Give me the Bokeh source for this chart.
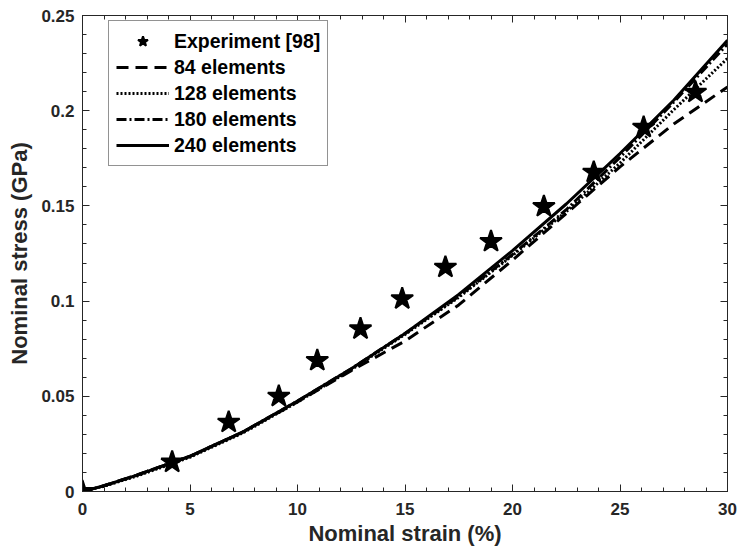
from bokeh.plotting import figure
from bokeh.models import (Range1d, LinearAxis, SingleIntervalTicker, NumeralTickFormatter,
                          CustomJSTickFormatter, Legend, LegendItem)
from bokeh.embed import file_html
from bokeh.resources import INLINE

# Experimental data (stars)
exp_strain = [0, 4.17, 6.8, 9.13, 10.92, 12.93, 14.87, 16.88, 19.0, 21.46, 23.78, 26.1, 28.51]
exp_stress = [0, 0.0154, 0.0364, 0.050, 0.0688, 0.0854, 0.1012, 0.1178, 0.1313, 0.1497, 0.1677, 0.1913, 0.2097]

# Simulation curves
sim_strain = [0, 1, 2.5, 5, 7.5, 10, 12.5, 15, 17.5, 20, 22.5, 25, 27.5, 30]
stress_84 = [0, 0.003, 0.0085, 0.0185, 0.0315, 0.047, 0.0635, 0.079, 0.098, 0.1215, 0.146, 0.1705, 0.193, 0.2125]
stress_128 = [0, 0.0028, 0.008, 0.018, 0.031, 0.047, 0.064, 0.0825, 0.102, 0.124, 0.147, 0.1725, 0.2005, 0.2275]
stress_180 = [0, 0.003, 0.0085, 0.0185, 0.0315, 0.0475, 0.0645, 0.083, 0.1025, 0.1245, 0.148, 0.1755, 0.2045, 0.235]
stress_240 = [0, 0.003, 0.0085, 0.0185, 0.0315, 0.0475, 0.0645, 0.083, 0.1035, 0.1265, 0.151, 0.1775, 0.2055, 0.237]

labels = ["Experiment [98]", "84 elements", "128 elements", "180 elements", "240 elements"]
x_label = "Nominal strain (%)"
y_label = "Nominal stress (GPa)"

FONT = "Liberation Sans"
AX = "#262626"

p = figure(width=737, height=550, output_backend="svg", toolbar_location=None,
           x_range=Range1d(0, 30), y_range=Range1d(0, 0.25),
           min_border_left=82, min_border_right=10, min_border_top=15, min_border_bottom=59)
p.grid.visible = False
p.outline_line_color = AX
p.outline_line_width = 1
p.background_fill_color = "white"
p.border_fill_color = "white"

p.xaxis.ticker = SingleIntervalTicker(interval=5, num_minor_ticks=5)
p.yaxis.ticker = SingleIntervalTicker(interval=0.05, num_minor_ticks=5)
p.yaxis.formatter = NumeralTickFormatter(format="0.[00]")

for ax in (p.xaxis[0], p.yaxis[0]):
    ax.axis_line_color = AX
    ax.major_tick_line_color = AX
    ax.minor_tick_line_color = AX
    ax.major_tick_in = 7
    ax.major_tick_out = 0
    ax.minor_tick_in = 4
    ax.minor_tick_out = 0
    ax.major_label_text_font = FONT
    ax.major_label_text_font_style = "bold"
    ax.major_label_text_font_size = "17px"
    ax.major_label_text_color = AX
    ax.axis_label_text_font = FONT
    ax.axis_label_text_font_style = "bold"
    ax.axis_label_text_font_size = "22px"
    ax.axis_label_text_color = AX

p.xaxis.axis_label = x_label
p.yaxis.axis_label = y_label
p.xaxis.major_label_standoff = 11
p.xaxis.axis_label_standoff = 3
p.yaxis.major_label_standoff = 8
p.yaxis.axis_label_standoff = 6

# box axes (top/right) with ticks but no labels
for loc, tk in (("above", SingleIntervalTicker(interval=5, num_minor_ticks=5)),
                ("right", SingleIntervalTicker(interval=0.05, num_minor_ticks=5))):
    a = LinearAxis(ticker=tk, formatter=CustomJSTickFormatter(code="return ''"))
    a.axis_line_color = AX
    a.major_tick_line_color = AX
    a.minor_tick_line_color = AX
    a.major_tick_in = 7
    a.major_tick_out = 0
    a.minor_tick_in = 4
    a.minor_tick_out = 0
    a.major_label_standoff = 0
    p.add_layout(a, loc)

r_exp = p.scatter(exp_strain, exp_stress, marker="star", size=23,
                  fill_color="black", line_color="black", line_width=2)
r84 = p.line(sim_strain, stress_84, line_color="black", line_width=3, line_dash="12 7")
r128 = p.line(sim_strain, stress_128, line_color="black", line_width=3, line_dash="2 2")
r180 = p.line(sim_strain, stress_180, line_color="black", line_width=3, line_dash="10 3 2 3")
r240 = p.line(sim_strain, stress_240, line_color="black", line_width=3)

legend = Legend(items=[LegendItem(label=labels[0], renderers=[r_exp]),
                       LegendItem(label=labels[1], renderers=[r84]),
                       LegendItem(label=labels[2], renderers=[r128]),
                       LegendItem(label=labels[3], renderers=[r180]),
                       LegendItem(label=labels[4], renderers=[r240])],
                location=(26, 325))
legend.label_text_font = FONT
legend.label_text_font_style = "bold"
legend.label_text_font_size = "19.5px"
legend.label_text_color = "black"
legend.glyph_width = 53
legend.glyph_height = 26
legend.label_height = 26
legend.label_standoff = 5
legend.spacing = 0
legend.padding = 7
legend.margin = 0
legend.border_line_color = AX
legend.border_line_width = 1
legend.background_fill_color = "white"
legend.background_fill_alpha = 1
p.add_layout(legend, "center")

open("out.html", "w").write(file_html(p, INLINE))
